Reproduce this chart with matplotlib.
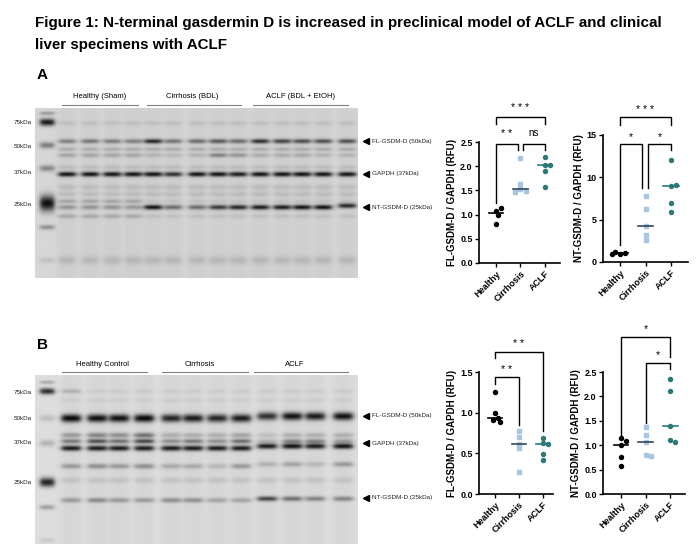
import numpy as np
import matplotlib
matplotlib.use('Agg')
from matplotlib import pyplot as plt

plt.rcParams['font.family'] = ['Liberation Sans', 'DejaVu Sans']

# ---------------- данные точечных графиков ----------------
groups = ['Healthy', 'Cirrhosis', 'ACLF']

a_fl_healthy = [1.07, 1.13, 0.99, 0.81]
a_fl_cirrhosis = [2.17, 1.63, 1.52, 1.48, 1.47]
a_fl_aclf = [2.19, 2.02, 2.03, 1.91, 1.58]

a_nt_healthy = [0.9, 1.05, 1.15, 1.0]
a_nt_cirrhosis = [7.8, 6.3, 4.3, 3.2, 2.55]
a_nt_aclf = [12.1, 9.0, 9.05, 7.0, 5.9]

b_fl_healthy = [1.25, 0.99, 0.94, 0.91, 0.89]
b_fl_cirrhosis = [0.78, 0.70, 0.62, 0.56, 0.27]
b_fl_aclf = [0.69, 0.63, 0.61, 0.49, 0.42]

b_nt_healthy = [1.14, 1.09, 1.01, 0.75, 0.57]
b_nt_cirrhosis = [1.38, 1.21, 1.07, 0.80, 0.78]
b_nt_aclf = [2.35, 2.11, 1.40, 1.10, 1.06]

# скобки значимости: (x1, x2, y, конец левой ножки, конец правой ножки, метка, y метки)
a_fl_sig = [(0, 2, 3.02, 2.87, 2.87, '* * *', 3.2),
            (0, 0.9, 2.46, 1.25, 2.33, '* *', 2.67),
            (1.1, 2, 2.46, 2.33, 2.33, 'ns', 2.69)]
a_nt_sig = [(0, 2, 17.1, 16.2, 16.2, '* * *', 18.0),
            (0, 0.86, 13.9, 2.0, 8.7, '*', 14.7),
            (1.1, 2, 13.9, 8.7, 13.2, '*', 14.7)]
b_fl_sig = [(0, 2, 1.75, 1.67, 0.78, '* *', 1.85),
            (0, 1, 1.44, 1.35, 0.85, '* *', 1.53)]
b_nt_sig = [(0, 2, 3.22, 1.21, 2.81, '*', 3.38),
            (1, 2, 2.68, 1.45, 2.56, '*', 2.84)]

# ---------------- данные блотов ----------------
mw_labels = ['75kDa', '50kDa', '37kDa', '25kDa']
band_labels = ['FL-GSDM-D (50kDa)', 'GAPDH (37kDa)', 'NT-GSDM-D (25kDa)']

a_groups = ['Healthy (Sham)', 'Cirrhosis (BDL)', 'ACLF (BDL + EtOH)']
b_groups = ['Healthy Control', 'Cirrhosis', 'ACLF']

# интенсивность полос по дорожкам (0 - нет, 1 - максимум)
a_fl = [0.4, 0.45, 0.42, 0.4, 0.85, 0.45, 0.5, 0.6, 0.5, 0.8, 0.7, 0.65, 0.65, 0.65]
a_gapdh = [0.95, 0.95, 0.95, 0.95, 0.95, 0.8, 0.95, 0.95, 0.9, 0.95, 0.95, 0.95, 0.95, 0.95]
a_nt = [0.3, 0.3, 0.3, 0.28, 0.95, 0.5, 0.5, 0.75, 0.85, 0.9, 0.9, 0.95, 0.95, 0.85]
a_ladder = [0.3, 0.95, 0.45, 0.4, 1.0, 0.35, 0.1]

b_fl = [1.0, 0.95, 0.95, 1.0, 0.85, 0.9, 0.85, 0.9, 0.8, 0.95, 0.9, 0.95]
b_mid1 = [0.3, 0.4, 0.35, 0.5, 0.2, 0.2, 0.2, 0.25, 0.12, 0.2, 0.2, 0.2]
b_mid2 = [0.45, 0.65, 0.5, 0.7, 0.35, 0.45, 0.35, 0.5, 0.18, 0.4, 0.4, 0.3]
b_gapdh = [0.9, 0.9, 0.9, 0.9, 0.9, 0.9, 0.9, 0.9, 0.9, 0.95, 0.9, 0.95]
b_low = [0.3, 0.35, 0.3, 0.35, 0.22, 0.22, 0.15, 0.3, 0.18, 0.25, 0.15, 0.3]
b_nt = [0.3, 0.38, 0.3, 0.3, 0.35, 0.35, 0.25, 0.25, 0.7, 0.5, 0.4, 0.4]
b_ladder = [0.25, 0.85, 0.15, 0.2, 0.9, 0.3, 0.1]

col = {'Healthy': 'black', 'Cirrhosis': '#a9c5e2', 'ACLF': '#2b7a78'}
med_col = {'Healthy': 'black', 'Cirrhosis': '#34465a', 'ACLF': '#2b7a78'}
mark = {'Healthy': 'o', 'Cirrhosis': 's', 'ACLF': 'o'}

fig = plt.figure(figsize=(7, 5.57), dpi=100)

# фоновая ось в пикселях
bg = fig.add_axes([0, 0, 1, 1])
bg.set_xlim(0, 700)
bg.set_ylim(557, 0)
bg.axis('off')

bg.text(35, 23, 'Figure 1: N-terminal gasdermin D is increased in preclinical model of ACLF and clinical',
        fontsize=10.9, fontweight='bold', va='center')
bg.text(35, 45, 'liver specimens with ACLF', fontsize=10.9, fontweight='bold', va='center')


def gel(x0, x1, y0, y1, base, lanes, hw, bands, ladder_x, ladder_bands):
    xs = np.arange(x0, x1, 0.5)
    ys = np.arange(y0, y1, 0.5)
    X, Y = np.meshgrid(xs, ys)
    dark = np.zeros_like(X)
    for xc in lanes:
        dark += 0.04 / (1 + np.exp((np.abs(X - xc) - hw) / 2.0))
    for yb, sy, vals, dy in bands:
        for k, (xc, v) in enumerate(zip(lanes, vals)):
            lane = 1 / (1 + np.exp((np.abs(X - xc) - hw) / 1.6))
            dark += v * lane * np.exp(-0.5 * ((Y - yb - dy[k]) / sy) ** 2)
    lane = 1 / (1 + np.exp((np.abs(X - ladder_x) - 7) / 1.3))
    for yb, sy, v in ladder_bands:
        dark += v * lane * np.exp(-0.5 * ((Y - yb) / sy) ** 2)
    img = base - np.clip(dark, 0, 1) * (base - 0.05)
    return img


def blot(label, ly, groups_txt, gx, gline, box, lanes, hw, bands, ladder_bands,
         mw_y, lab_y, base):
    x0, x1, y0, y1 = box
    img = gel(x0, x1, y0, y1, base, lanes, hw, bands, 47, ladder_bands)
    bg.imshow(img, cmap='gray', vmin=0, vmax=1, extent=(x0, x1, y1, y0),
              interpolation='bilinear', aspect='auto')
    bg.set_xlim(0, 700)
    bg.set_ylim(557, 0)
    bg.text(42, ly, label, fontsize=11, fontweight='bold', va='center', ha='center')
    for t, cx, (a, b) in zip(groups_txt, gx, gline):
        bg.text(cx, gline_y[label] - 8, t, fontsize=5.5, ha='center', va='center')
        bg.plot([a, b], [gline_y[label]] * 2, color='#808080', lw=0.8)
    for t, y in zip(mw_labels, mw_y):
        bg.text(32, y, t, fontsize=4.5, ha='right', va='center', color='#222222')
    for t, y in zip(band_labels, lab_y):
        bg.plot(366, y, marker='<', ms=4, color='black')
        bg.text(372, y, t, fontsize=4.6, ha='left', va='center', color='#222222')


gline_y = {'A': 105, 'B': 372}

a_lanes = [67, 90, 112, 133, 153, 173, 197, 218, 238, 260, 282, 302, 323, 347]
z14 = [0] * 14
a_bands = [(123, 1.6, [0.08] * 14, z14),
           (141, 1.6, a_fl, z14),
           (149, 1.4, [0.18] * 14, z14),
           (155, 1.5, [0.22, 0.22, 0.22, 0.22, 0.15, 0.12, 0.15, 0.4, 0.3, 0.18, 0.18, 0.2, 0.15, 0.15], z14),
           (167, 1.6, [0.1] * 14, z14),
           (174, 1.7, a_gapdh, z14),
           (187, 2.0, [0.1] * 14, z14),
           (194, 1.8, [0.1] * 14, z14),
           (201, 1.4, [0.22] * 4 + [0.07] * 10, z14),
           (207, 1.7, a_nt, [0] * 13 + [-1.5]),
           (216, 1.5, [0.2] * 4 + [0.08] * 10, z14),
           (260, 3.0, [0.12] * 14, z14)]
a_ladder_bands = [(113, 1.3, a_ladder[0]), (122, 2.5, a_ladder[1]), (145, 2.2, a_ladder[2]),
                  (168, 2.2, a_ladder[3]), (203, 5.5, a_ladder[4]), (227, 1.7, a_ladder[5]),
                  (260, 2.0, a_ladder[6])]
blot('A', 75, a_groups, [100, 192, 300], [(62, 138), (147, 241), (253, 348)],
     (35, 358, 108, 278), a_lanes, 8.5, a_bands, a_ladder_bands,
     [123, 147, 172, 205], [141, 174, 207], 0.84)

b_lanes = [71, 97, 119, 144, 171, 193, 217, 241, 267, 292, 315, 343]
z12 = [0] * 12
up = [0] * 8 + [-2] * 4
b_bands = [(391, 1.6, [0.18] + [0.05] * 11, z12),
           (400, 1.6, [0.05] * 12, z12),
           (418, 2.8, b_fl, up),
           (435, 1.8, b_mid1, z12),
           (441, 1.6, b_mid2, z12),
           (448, 1.9, b_gapdh, up),
           (466, 1.8, b_low, up),
           (480, 2.0, [0.1] * 12, z12),
           (500, 1.7, b_nt, [0] * 8 + [-1.5] * 4)]
b_ladder_bands = [(382, 1.3, b_ladder[0]), (391, 2.2, b_ladder[1]), (418, 2.4, b_ladder[2]),
                  (443, 2.4, b_ladder[3]), (482, 3.2, b_ladder[4]), (507, 1.7, b_ladder[5]),
                  (540, 1.7, b_ladder[6])]
blot('B', 345, b_groups, [103, 200, 295], [(62, 147), (162, 248), (254, 348)],
     (35, 358, 375, 544), b_lanes, 9.5, b_bands, b_ladder_bands,
     [392, 419, 443, 482], [416, 443, 498], 0.87)


def swarm(vals, ax_h, yrange, px_per_x, d=4.6):
    placed = []
    offs = []
    sy = ax_h / yrange
    for v in vals:
        for k in [0, 1, -1, 2, -2, 3, -3]:
            o = k * d * 0.55
            if all((o - po) ** 2 + ((v - pv) * sy) ** 2 >= d ** 2 for po, pv in placed):
                break
        placed.append((o, v))
        offs.append(o / px_per_x)
    return offs


def dot_plot(rect, data, ylim, yticks, ytl, ylabel, sig):
    ax = fig.add_axes([rect[0] / 700, 1 - rect[3] / 557, (rect[1] - rect[0]) / 700,
                       (rect[3] - rect[2]) / 557])
    xl = rect[4]
    ax.set_xlim(*xl)
    ax.set_ylim(*ylim)
    w_px = rect[1] - rect[0]
    h_px = rect[3] - rect[2]
    px_per_x = w_px / (xl[1] - xl[0])
    for i, (g, vals) in enumerate(zip(groups, data)):
        offs = swarm(vals, h_px, ylim[1] - ylim[0], px_per_x)
        ax.plot(np.array(offs) + i, vals, ls='none', marker=mark[g], ms=2.9,
                color=col[g], clip_on=False, zorder=3)
        m = np.median(vals)
        ax.plot([i - 0.3, i + 0.3], [m, m], color=med_col[g], lw=1.2, zorder=4)
    for sp in ['top', 'right']:
        ax.spines[sp].set_visible(False)
    for sp in ['left', 'bottom']:
        ax.spines[sp].set_linewidth(1.2)
    ax.set_yticks(yticks)
    ax.set_yticklabels(ytl, fontsize=6.5, fontweight='bold')
    ax.set_xticks(range(3))
    ax.set_xticklabels(groups, fontsize=6.5, fontweight='bold', rotation=45,
                       ha='right', rotation_mode='anchor')
    ax.tick_params(length=3, width=1, pad=1.5)
    ax.set_ylabel(ylabel, fontsize=7, fontweight='bold', labelpad=2)
    ax.patch.set_alpha(0)
    for x1, x2, y, yl, yr, t, ty in sig:
        ax.plot([x1, x1, x2, x2], [yl, y, y, yr], color='black', lw=1.0, clip_on=False)
        ax.text((x1 + x2) / 2, ty, t, fontsize=7 if t == 'ns' else 7.5, ha='center',
                va='center', clip_on=False)
    return ax


dot_plot((479, 560, 142, 263, (-0.69, 2.61)),
         [a_fl_healthy, a_fl_cirrhosis, a_fl_aclf], (0, 2.5),
         [0, 0.5, 1.0, 1.5, 2.0, 2.5], ['0.0', '0.5', '1.0', '1.5', '2.0', '2.5'],
         'FL-GSDM-D / GAPDH (RFU)', a_fl_sig)
dot_plot((603, 688, 135, 262, (-0.67, 2.67)),
         [a_nt_healthy, a_nt_cirrhosis, a_nt_aclf], (0, 15),
         [0, 5, 10, 15], ['0', '5', '10', '15'],
         'NT-GSDM-D / GAPDH (RFU)', a_nt_sig)
dot_plot((479, 553, 372, 494, (-0.67, 2.42)),
         [b_fl_healthy, b_fl_cirrhosis, b_fl_aclf], (0, 1.5),
         [0, 0.5, 1.0, 1.5], ['0.0', '0.5', '1.0', '1.5'],
         'FL-GSDM-D / GAPDH (RFU)', b_fl_sig)
dot_plot((603, 685, 372, 494, (-0.73, 2.6)),
         [b_nt_healthy, b_nt_cirrhosis, b_nt_aclf], (0, 2.5),
         [0, 0.5, 1.0, 1.5, 2.0, 2.5], ['0.0', '0.5', '1.0', '1.5', '2.0', '2.5'],
         'NT-GSDM-D / GAPDH (RFU)', b_nt_sig)

fig.savefig('out.png', dpi=100)
